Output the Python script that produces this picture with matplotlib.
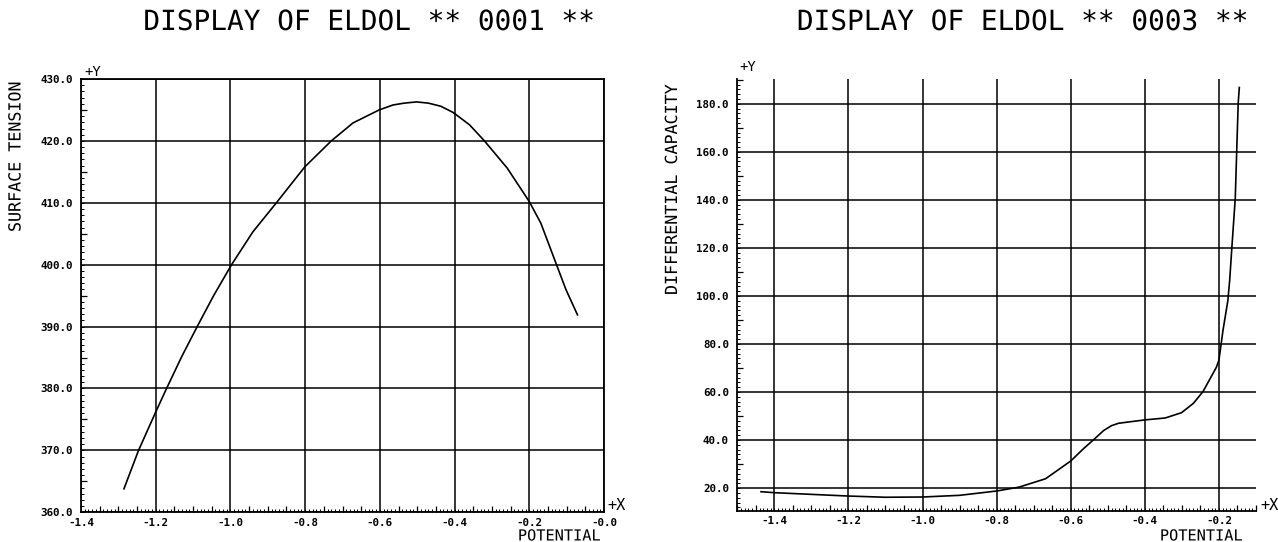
import matplotlib
matplotlib.use('Agg')
import matplotlib.pyplot as plt
import matplotlib.patheffects as pe
from matplotlib.ticker import MultipleLocator

# figure size in pixels
W, H = 1278, 542
MONO = 'DejaVu Sans Mono'

# left chart: surface tension against potential
st_potential = [-1.285, -1.246, -1.200, -1.171, -1.130, -1.089, -1.045, -0.997,
                -0.940, -0.877, -0.801, -0.730, -0.672, -0.602, -0.565, -0.535,
                -0.502, -0.470, -0.437, -0.404, -0.360, -0.320, -0.259, -0.200,
                -0.169, -0.129, -0.102, -0.071]
surface_tension = [363.8, 370.0, 376.2, 380.0, 385.2, 390.0, 395.0, 400.0,
                   405.3, 410.0, 415.8, 420.0, 422.9, 425.0, 425.8, 426.1,
                   426.3, 426.1, 425.6, 424.6, 422.6, 420.0, 415.6, 410.2,
                   406.7, 400.3, 396.0, 391.9]
st_xticks = [-1.4, -1.2, -1.0, -0.8, -0.6, -0.4, -0.2, 0.0]
st_xlabels = ['-1.4', '-1.2', '-1.0', '-0.8', '-0.6', '-0.4', '-0.2', '-0.0']
st_yticks = [360, 370, 380, 390, 400, 410, 420, 430]
st_ylabels = ['360.0', '370.0', '380.0', '390.0', '400.0', '410.0', '420.0', '430.0']

# right chart: differential capacity against potential
dc_potential = [-1.436, -1.4, -1.2, -1.1, -1.0, -0.9, -0.8, -0.74, -0.668, -0.6,
                -0.565, -0.538, -0.511, -0.490, -0.471, -0.4, -0.345, -0.301,
                -0.269, -0.243, -0.207, -0.2, -0.189, -0.176, -0.171, -0.165,
                -0.156, -0.152, -0.148, -0.145]
diff_capacity = [18.5, 18.1, 16.7, 16.2, 16.3, 17.0, 18.8, 20.4, 23.9, 31.3,
                 36.5, 40.2, 44.0, 46.0, 47.0, 48.4, 49.2, 51.4,
                 55.3, 60.2, 70.3, 73.3, 85.8, 98.0, 106.6, 120.5,
                 140.6, 160.7, 180.4, 186.8]
dc_xticks = [-1.4, -1.2, -1.0, -0.8, -0.6, -0.4, -0.2]
dc_xlabels = ['-1.4', '-1.2', '-1.0', '-0.8', '-0.6', '-0.4', '-0.2']
dc_yticks = [20, 40, 60, 80, 100, 120, 140, 160, 180]
dc_ylabels = ['20.0', '40.0', '60.0', '80.0', '100.0', '120.0', '140.0', '160.0', '180.0']

# thin the strokes of the big text a little, like a pen plotter
THIN = [pe.withStroke(linewidth=0.9, foreground='white')]


def fx(x):
    return x / W


def fy(y):
    return 1 - y / H


def style_axes(ax, xticks, xlabels, yticks, ylabels, xminor, yminor, xtiny, ytiny):
    ax.set_xticks(xticks, xlabels, fontfamily=MONO, fontweight='bold', fontsize=7.8)
    ax.set_yticks(yticks, ylabels, fontfamily=MONO, fontweight='bold', fontsize=7.8)
    ax.xaxis.set_minor_locator(MultipleLocator(xminor))
    ax.yaxis.set_minor_locator(MultipleLocator(yminor))
    ax.tick_params(axis='x', which='major', length=0, pad=4)
    ax.tick_params(axis='y', which='major', length=0, pad=6)
    ax.tick_params(which='minor', direction='in', length=4, width=0.9, color='black')
    ax.grid(True, which='major', color='black', linewidth=1.1)
    for s in ax.spines.values():
        s.set_linewidth(1.3)
    # tiny ticks that make the axes look dotted
    sx = ax.secondary_xaxis('bottom')
    sx.xaxis.set_major_locator(MultipleLocator(xtiny))
    sx.tick_params(direction='in', length=2, width=0.7, labelbottom=False)
    sx.spines['bottom'].set_visible(False)
    sy = ax.secondary_yaxis('left')
    sy.yaxis.set_major_locator(MultipleLocator(ytiny))
    sy.tick_params(direction='in', length=2, width=0.7, labelleft=False)
    sy.spines['left'].set_visible(False)


fig = plt.figure(figsize=(W / 100, H / 100), dpi=100)

# left axes
ax1 = fig.add_axes([fx(81), fy(512.3), (604 - 81) / W, (512.3 - 79) / H])
ax1.plot(st_potential, surface_tension, color='black', linewidth=1.2)
ax1.set_xlim(-1.4, 0.0)
ax1.set_ylim(360, 430)
style_axes(ax1, st_xticks, st_xlabels, st_yticks, st_ylabels, 0.05, 5, 0.01, 1)

# right axes
ax2 = fig.add_axes([fx(737.3), fy(510.7), (1256 - 737.3) / W, (510.7 - 79.3) / H])
ax2.plot(dc_potential, diff_capacity, color='black', linewidth=1.2)
ax2.set_xlim(-1.5, -0.1)
ax2.set_ylim(10.6, 190.2)
style_axes(ax2, dc_xticks, dc_xlabels, dc_yticks, dc_ylabels, 0.05, 10, 0.01, 2)
ax2.spines['top'].set_visible(False)
ax2.spines['right'].set_visible(False)

# titles
fig.text(fx(369.5), fy(22), 'DISPLAY OF ELDOL ** 0001 **', ha='center', va='center',
         fontsize=20, family=MONO, path_effects=THIN)
fig.text(fx(1023), fy(22), 'DISPLAY OF ELDOL ** 0003 **', ha='center', va='center',
         fontsize=20, family=MONO, path_effects=THIN)

# axis labels
fig.text(fx(15.5), fy(157), 'SURFACE TENSION', rotation=90, ha='center', va='center',
         fontsize=12, family=MONO, path_effects=THIN)
fig.text(fx(672), fy(190), 'DIFFERENTIAL CAPACITY', rotation=90, ha='center', va='center',
         fontsize=12, family=MONO, path_effects=THIN)
fig.text(fx(600), fy(536), 'POTENTIAL', ha='right', va='center', fontsize=11, family=MONO,
         path_effects=THIN)
fig.text(fx(1242), fy(536), 'POTENTIAL', ha='right', va='center', fontsize=11, family=MONO,
         path_effects=THIN)

# axis direction markers
fig.text(fx(84), fy(72), '+Y', ha='left', va='center', fontsize=10, family=MONO)
fig.text(fx(739), fy(67), '+Y', ha='left', va='center', fontsize=10, family=MONO)
fig.text(fx(607), fy(506), '+X', ha='left', va='center', fontsize=11, family=MONO)
fig.text(fx(1260), fy(505), '+X', ha='left', va='center', fontsize=11, family=MONO)

fig.savefig('out.png', dpi=100)
